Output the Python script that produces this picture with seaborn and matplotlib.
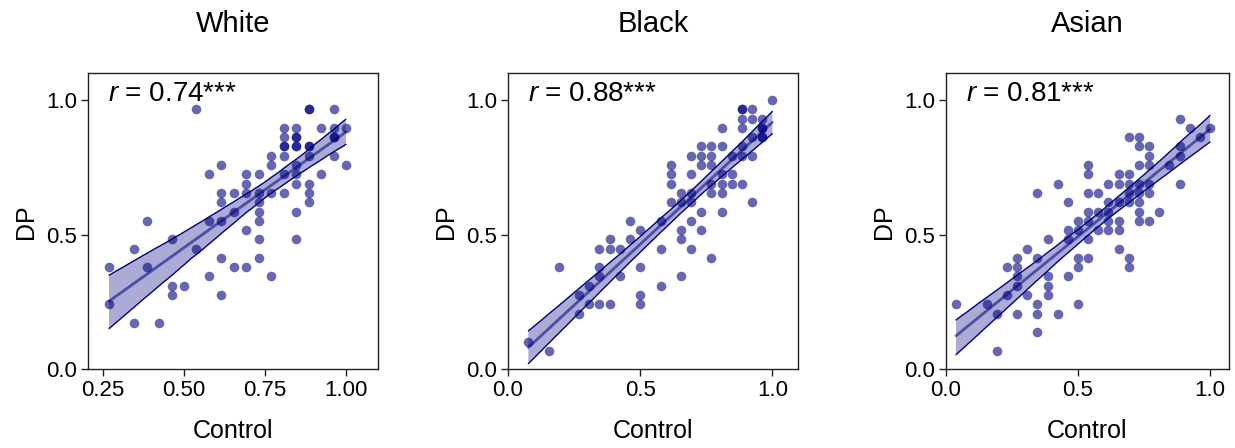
import numpy as np
import pandas as pd
import matplotlib
matplotlib.use("Agg")
import matplotlib.pyplot as plt
import seaborn as sns

# ---------------- data ----------------
white_control = ([0.269] * 2 + [0.346] * 2 + [0.385] * 2 + [0.423] + [0.462] * 3 + [0.500]
                 + [0.538] * 2 + [0.577] * 3 + [0.615] * 6 + [0.654] * 3 + [0.692] * 5
                 + [0.731] * 7 + [0.769] * 4 + [0.808] * 7 + [0.846] * 10 + [0.885] * 8
                 + [0.923] * 2 + [0.962] * 5 + [1.000] * 2)
white_dp = [0.379, 0.241,
            0.448, 0.172,
            0.552, 0.379,
            0.172,
            0.483, 0.310, 0.276,
            0.310,
            0.966, 0.448,
            0.724, 0.552, 0.345,
            0.759, 0.655, 0.621, 0.552, 0.414, 0.276,
            0.655, 0.586, 0.379,
            0.724, 0.690, 0.655, 0.517, 0.379,
            0.724, 0.655, 0.621, 0.586, 0.552, 0.483, 0.414,
            0.793, 0.759, 0.655, 0.345,
            0.897, 0.862, 0.828, 0.828, 0.793, 0.724, 0.655,
            0.897, 0.862, 0.862, 0.828, 0.828, 0.759, 0.724, 0.690, 0.586, 0.483,
            0.966, 0.966, 0.828, 0.828, 0.793, 0.690, 0.655, 0.621,
            0.897, 0.724,
            0.966, 0.897, 0.862, 0.862, 0.793,
            0.897, 0.759]

black_control = ([0.077] + [0.154] + [0.192] + [0.269] * 2 + [0.308] * 2 + [0.346] * 4
                 + [0.385] * 3 + [0.423] * 2 + [0.462] * 2 + [0.500] * 4 + [0.577] * 3
                 + [0.615] * 4 + [0.654] * 5 + [0.692] * 6 + [0.731] * 5 + [0.769] * 6
                 + [0.808] * 6 + [0.846] * 3 + [0.885] * 7 + [0.923] * 5 + [0.962] * 5 + [1.000])
black_dp = [0.103,
            0.069,
            0.379,
            0.276, 0.207,
            0.310, 0.241,
            0.448, 0.379, 0.345, 0.241,
            0.483, 0.448, 0.241,
            0.448, 0.345,
            0.552, 0.483,
            0.517, 0.379, 0.276, 0.241,
            0.552, 0.448, 0.310,
            0.759, 0.724, 0.690, 0.621,
            0.655, 0.621, 0.517, 0.483, 0.345,
            0.793, 0.724, 0.655, 0.621, 0.552, 0.448,
            0.828, 0.793, 0.759, 0.586, 0.517,
            0.828, 0.793, 0.759, 0.690, 0.655, 0.414,
            0.897, 0.828, 0.724, 0.690, 0.655, 0.586,
            0.793, 0.724, 0.690,
            0.966, 0.966, 0.931, 0.897, 0.828, 0.793, 0.690,
            0.966, 0.931, 0.862, 0.793, 0.621,
            0.931, 0.897, 0.897, 0.862, 0.862,
            1.000]

asian_control = ([0.038] + [0.154] + [0.192] * 2 + [0.231] * 2 + [0.269] * 5 + [0.308] * 2
                 + [0.346] * 5 + [0.385] * 4 + [0.423] * 2 + [0.462] * 4 + [0.500] * 5
                 + [0.538] * 7 + [0.577] * 3 + [0.615] * 5 + [0.654] * 6 + [0.692] * 7
                 + [0.731] * 8 + [0.769] * 6 + [0.808] + [0.846] + [0.885] * 4 + [0.923]
                 + [0.962] + [1.000])
asian_dp = [0.241,
            0.241,
            0.207, 0.069,
            0.379, 0.276,
            0.414, 0.379, 0.345, 0.310, 0.207,
            0.448, 0.276,
            0.655, 0.414, 0.241, 0.207, 0.138,
            0.483, 0.345, 0.310, 0.276,
            0.690, 0.207,
            0.621, 0.517, 0.483, 0.345,
            0.552, 0.517, 0.414, 0.379, 0.241,
            0.759, 0.724, 0.655, 0.586, 0.552, 0.483, 0.414,
            0.655, 0.586, 0.517,
            0.690, 0.621, 0.586, 0.552, 0.517,
            0.724, 0.690, 0.621, 0.552, 0.517, 0.448,
            0.862, 0.724, 0.690, 0.655, 0.621, 0.414, 0.379,
            0.862, 0.828, 0.759, 0.690, 0.655, 0.621, 0.586, 0.552,
            0.828, 0.793, 0.759, 0.690, 0.655, 0.552,
            0.586,
            0.759,
            0.931, 0.828, 0.793, 0.690,
            0.897,
            0.862,
            0.897]

titles = ["White", "Black", "Asian"]
r_labels = ["0.74", "0.88", "0.81"]
sig_label = "***"
xticks_list = [[0.25, 0.50, 0.75, 1.00], [0.0, 0.5, 1.0], [0.0, 0.5, 1.0]]
xticklabels_list = [["0.25", "0.50", "0.75", "1.00"], ["0.0", "0.5", "1.0"], ["0.0", "0.5", "1.0"]]
yticks = [0.0, 0.5, 1.0]
yticklabels = ["0.0", "0.5", "1.0"]

# ---------------- style ----------------
sns.set_theme(style="ticks")
plt.rcParams["font.family"] = ["Liberation Sans", "DejaVu Sans"]
plt.rcParams["mathtext.fontset"] = "custom"
plt.rcParams["mathtext.rm"] = "Liberation Sans"
plt.rcParams["mathtext.it"] = "Liberation Sans:italic"
plt.rcParams["axes.edgecolor"] = "#222222"
plt.rcParams["axes.linewidth"] = 1.0
plt.rcParams["text.color"] = "black"
plt.rcParams["axes.labelcolor"] = "black"

fig = plt.figure(figsize=(12.35, 4.48), dpi=100)
W, H = 1235.0, 448.0
axes_px = [(88, 290, (0.204, 1.099)), (508, 290, (0.0, 1.097)), (946, 283, (0.0, 1.072))]
bottom_px, height_px = 369.3, 296.0

datasets = [(white_control, white_dp), (black_control, black_dp), (asian_control, asian_dp)]
navy = "#000080"

for i, ((xs, ys), (left, width, xlim)) in enumerate(zip(datasets, axes_px)):
    ax = fig.add_axes([left / W, (H - bottom_px) / H, width / W, height_px / H])
    df = pd.DataFrame({"Control": xs, "DP": ys})
    sns.regplot(data=df, x="Control", y="DP", ax=ax, ci=95, n_boot=1000, seed=3,
                scatter_kws=dict(s=48, alpha=0.6, color=navy, linewidths=0),
                line_kws=dict(color=navy, lw=2.0, alpha=0.55))
    # style the confidence band and outline its edges
    poly = ax.collections[-1]
    poly.set_alpha(0.33)
    poly.set_facecolor(navy)
    poly.set_edgecolor("none")
    verts = poly.get_paths()[0].vertices
    n = (len(verts) - 3) // 2
    upper = verts[1:n + 1]
    lower = verts[n + 2:2 * n + 2]
    ax.plot(upper[:, 0], upper[:, 1], color=navy, lw=1.0)
    ax.plot(lower[:, 0], lower[:, 1], color=navy, lw=1.0)

    ax.set_xlim(*xlim)
    ax.set_ylim(0.0, 1.1)
    ax.set_xticks(xticks_list[i])
    ax.set_xticklabels(xticklabels_list[i])
    ax.set_yticks(yticks)
    ax.set_yticklabels(yticklabels)
    ax.tick_params(axis="both", labelsize=16, length=5, width=1.0, colors="#222222",
                   labelcolor="black", pad=3)
    ax.set_xlabel("Control", fontsize=18, labelpad=13)
    ax.set_ylabel("DP", fontsize=18, labelpad=6)
    ax.set_title(titles[i], fontsize=21, pad=30, color="black")
    for s in ax.spines.values():
        s.set_visible(True)
    ax.text(0.07, 0.93, r"$\mathit{r}$ = " + r_labels[i] + sig_label,
            transform=ax.transAxes, fontsize=20, va="center", ha="left", color="black")

fig.savefig("out.png", dpi=100)
